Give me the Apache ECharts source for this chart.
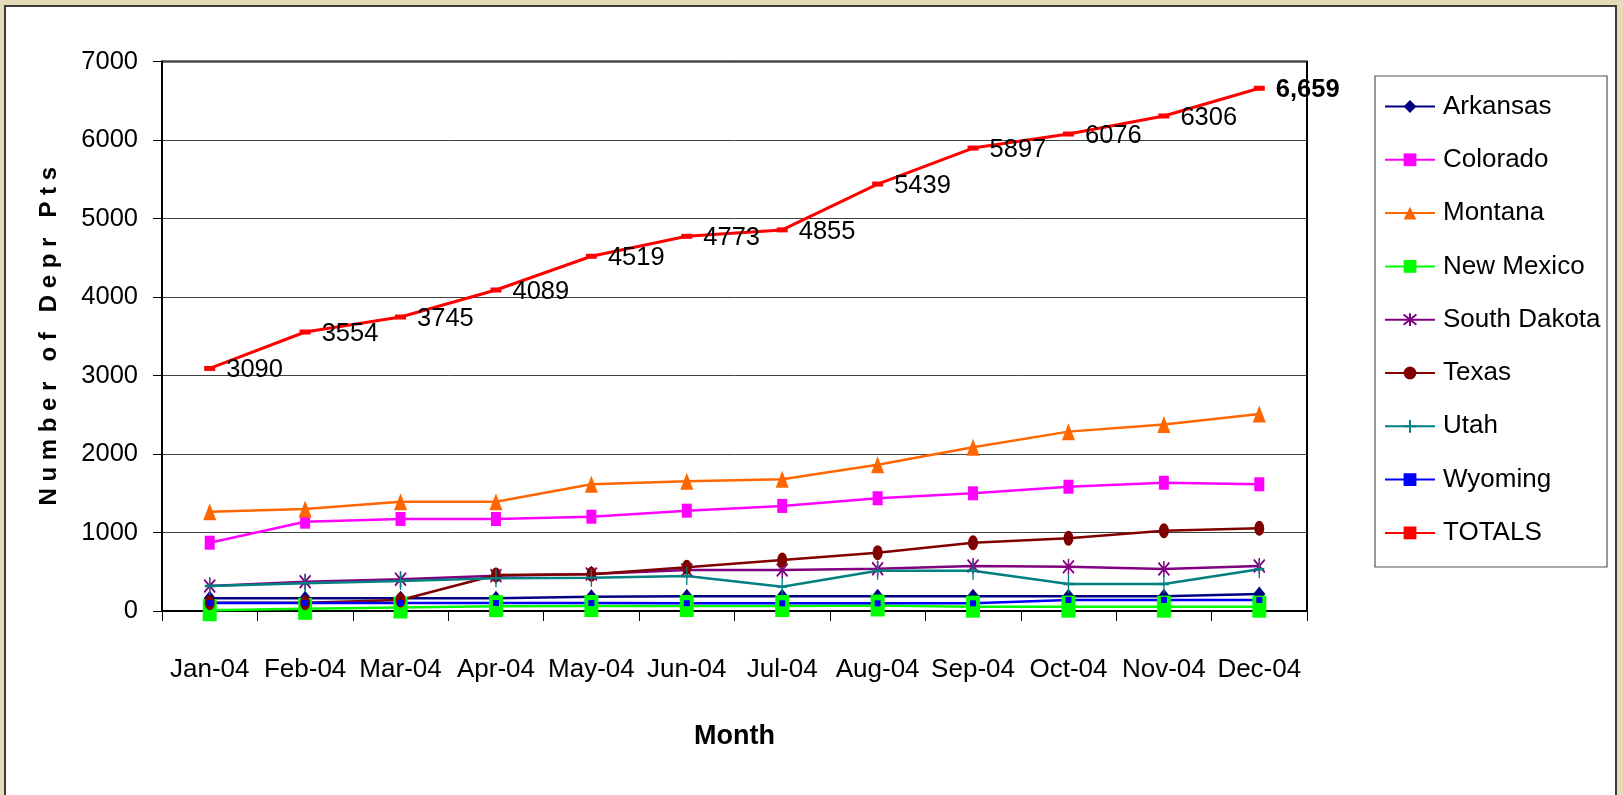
<!DOCTYPE html>
<html style="height: 100%">
<head>
    <meta charset="utf-8">
    <script src="https://cdn.jsdelivr.net/npm/echarts@6/dist/echarts.min.js"></script>
</head>
<body style="height: 100%; margin: 0">
<div id="container" style="width: 1623px; height: 795px"></div>
<script type="text/javascript">

// months on the x axis
var months = ['Jan-04', 'Feb-04', 'Mar-04', 'Apr-04', 'May-04', 'Jun-04',
              'Jul-04', 'Aug-04', 'Sep-04', 'Oct-04', 'Nov-04', 'Dec-04'];

// values (TOTALS are the printed labels)
var arkansas   = [162, 162, 162, 162, 182, 187, 187, 187, 187, 187, 187, 217];
var colorado   = [870, 1138, 1172, 1172, 1201, 1278, 1338, 1436, 1499, 1583, 1634, 1614];
var montana    = [1265, 1299, 1392, 1392, 1614, 1652, 1679, 1864, 2087, 2285, 2377, 2510];
var newMexico  = [10, 28, 45, 62, 64, 64, 64, 70, 55, 55, 55, 55];
var southDakota = [318, 373, 404, 450, 471, 522, 522, 539, 573, 564, 535, 573];
var texas      = [106, 106, 140, 459, 468, 557, 650, 743, 870, 926, 1023, 1054];
var utah       = [318, 353, 382, 417, 424, 446, 310, 513, 513, 344, 344, 531];
var wyoming    = [102, 102, 102, 102, 102, 100, 98, 98, 98, 140, 140, 140];
var totals     = [3090, 3554, 3745, 4089, 4519, 4773, 4855, 5439, 5897, 6076, 6306, 6659];

var yTicks = [0, 1000, 2000, 3000, 4000, 5000, 6000, 7000];

var FONT = "'Liberation Sans', Arial, sans-serif";

var ASTERISK = 'path://M0,1L10,9M10,1L0,9M5,0L5,10';
var PLUS = 'path://M5,0L5,10M0,5L10,5';

function makeLine(name, data, color, symbol, size, extra) {
    var s = {
        name: name,
        type: 'line',
        data: data,
        symbol: symbol,
        symbolSize: size,
        showAllSymbol: true,
        lineStyle: {color: color, width: 2.5},
        itemStyle: {color: color},
        emphasis: {disabled: true}
    };
    if (extra) {
        for (var k in extra) s[k] = extra[k];
    }
    return s;
}

// last total gets the bold "6,659" label like the original
var totalsData = totals.map(function (v, i) {
    if (i === totals.length - 1) {
        return {
            value: v,
            label: {
                fontWeight: 'bold',
                formatter: function (p) {
                    return p.value.toLocaleString('en-US');
                }
            }
        };
    }
    return v;
});

var series = [
    makeLine('Arkansas', arkansas, '#000080', 'diamond', [12, 15]),
    makeLine('Colorado', colorado, '#FF00FF', 'rect', [10, 14]),
    makeLine('Montana', montana, '#FF6600', 'triangle', [13, 17]),
    makeLine('New Mexico', newMexico, '#00FF00', 'rect', [14, 22]),
    makeLine('South Dakota', southDakota, '#800080', ASTERISK, [11, 16], {
        itemStyle: {color: '#800080', borderColor: '#800080', borderWidth: 1.8}
    }),
    makeLine('Texas', texas, '#800000', 'circle', [10, 15]),
    makeLine('Utah', utah, '#008080', PLUS, [10, 18], {
        itemStyle: {color: '#008080', borderColor: '#008080', borderWidth: 1.8}
    }),
    makeLine('Wyoming', wyoming, '#0000FF', 'rect', [6, 6]),
    makeLine('TOTALS', totalsData, '#FF0000', 'rect', [11, 5], {
        lineStyle: {color: '#FF0000', width: 3},
        label: {
            show: true,
            position: 'right',
            distance: 11,
            offset: [0, 2],
            color: '#000',
            fontFamily: FONT,
            fontSize: 25.5,
            formatter: function (p) { return String(p.value); }
        }
    })
];

var option = {
    animation: false,
    backgroundColor: '#e4dbb7',
    textStyle: {fontFamily: FONT},
    graphic: [
        {
            type: 'rect',
            z: -10,
            shape: {x: 5, y: 6, width: 1611, height: 800},
            style: {fill: '#ffffff', stroke: '#3c3c3c', lineWidth: 2}
        },
        {
            type: 'rect',
            z: -5,
            shape: {x: 1375, y: 76, width: 232, height: 491},
            style: {fill: '#ffffff', stroke: '#555555', lineWidth: 1.2}
        }
    ],
    grid: {
        left: 162,
        right: 316,
        top: 61.5,
        bottom: 184,
        show: true,
        borderColor: '#000',
        borderWidth: 2,
        backgroundColor: 'transparent'
    },
    legend: {
        orient: 'vertical',
        left: 1384,
        top: 88.5,
        padding: 0,
        itemWidth: 50,
        itemHeight: 16,
        itemGap: 17.3,
        data: series.map(function (s) { return s.name; }),
        textStyle: {
            fontFamily: FONT,
            fontSize: 26,
            color: '#000',
            lineHeight: 36,
            padding: [0, 0, 0, 3]
        }
    },
    xAxis: {
        type: 'category',
        data: months,
        boundaryGap: true,
        name: 'Month',
        nameLocation: 'middle',
        nameGap: 112,
        nameMoveOverlap: false,
        nameTextStyle: {fontFamily: FONT, fontSize: 27, fontWeight: 'bold', color: '#000'},
        axisLine: {lineStyle: {color: '#000', width: 2}},
        axisTick: {show: true, length: 10, lineStyle: {color: '#000', width: 1}},
        axisLabel: {fontFamily: FONT, fontSize: 26, color: '#000', margin: 46, interval: 0},
        splitLine: {show: false}
    },
    yAxis: {
        type: 'value',
        min: yTicks[0],
        max: yTicks[yTicks.length - 1],
        interval: 1000,
        name: 'N u m b e r   o f   D e p r   P t s',
        nameLocation: 'middle',
        nameGap: 101,
        nameMoveOverlap: false,
        nameTextStyle: {fontFamily: FONT, fontSize: 24, fontWeight: 'bold', color: '#000'},
        axisLine: {show: true, lineStyle: {color: '#000', width: 2}},
        axisTick: {show: true, length: 9, lineStyle: {color: '#000', width: 1}},
        axisLabel: {
            fontFamily: FONT,
            fontSize: 25.5,
            color: '#000',
            margin: 24,
            formatter: function (v) { return String(v); }
        },
        splitLine: {show: true, lineStyle: {color: '#404040', width: 1}}
    },
    series: series
};

var dom = document.getElementById('container');
var myChart = echarts.init(dom, null, {renderer: 'canvas'});
myChart.setOption(option);

</script>
</body>
</html>
